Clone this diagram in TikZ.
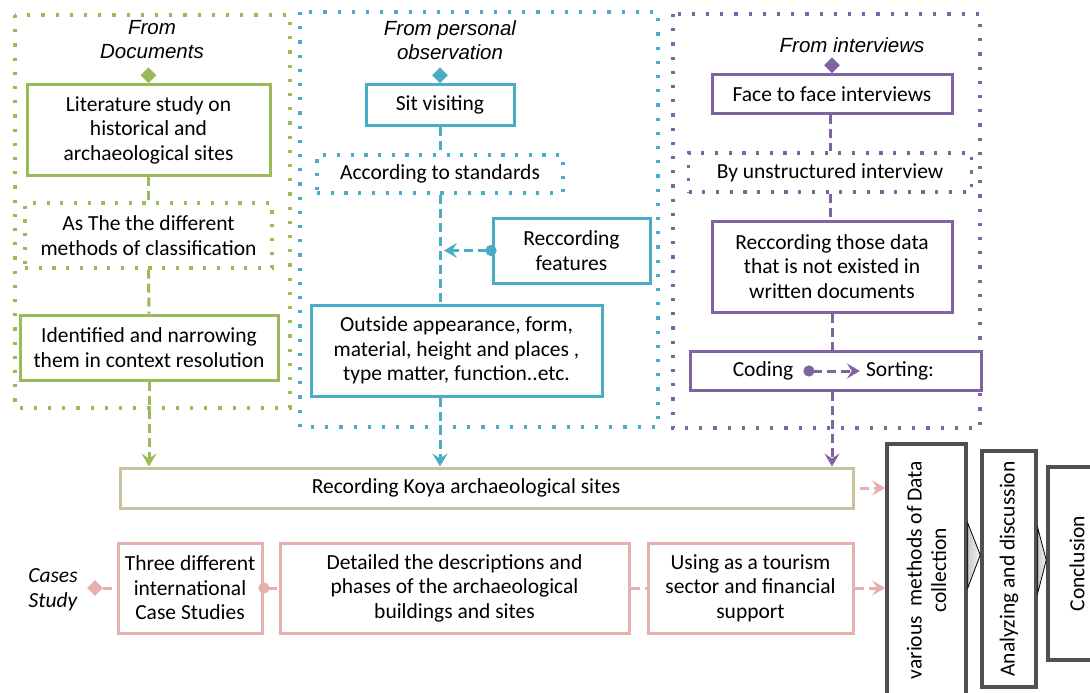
\documentclass[tikz,border=0pt]{standalone}
\usepackage{fontspec}
\setmainfont{Carlito}
\newfontfamily\headfont{Liberation Sans}
\usetikzlibrary{arrows.meta,shapes.geometric,calc,positioning}
\definecolor{grn}{HTML}{9BBB59}
\definecolor{blu}{HTML}{4BACC6}
\definecolor{prp}{HTML}{8064A2}
\definecolor{pnk}{HTML}{E6B0AE}
\definecolor{tan}{HTML}{C9C29E}
\definecolor{dgray}{HTML}{505050}

\begin{document}
\begin{tikzpicture}[x=1pt,y=-1pt,
    txt/.style={font=\fontsize{21.5}{24.5}\selectfont,align=center,inner sep=1pt},
    box/.style={txt,draw=#1,line width=3pt,fill=white},
    dotbox/.style={txt,draw=#1,line width=3.2pt,dash pattern=on 3.2pt off 10.5pt},
    region/.style={line width=3.2pt,dash pattern=on 3.2pt off 11pt},
    head/.style={font=\headfont\itshape\fontsize{20.5}{24}\selectfont,align=center,inner sep=0pt},
    conn/.style={line width=3pt,dash pattern=on 9pt off 5pt},
    arr/.style={-{Stealth[length=13pt,width=15pt,inset=5pt]}},
    dot/.style={{Circle[length=11pt,sep=-5pt]}-},
    dotarr/.style={{Circle[length=11pt,sep=-5pt]}-{Stealth[length=13pt,width=15pt,inset=5pt]}},
    dia/.style={diamond,fill,minimum width=16pt,minimum height=16pt,inner sep=0pt},
    stage/.style={txt,draw=dgray,line width=3.5pt,fill=white,rotate=90}]
  \useasboundingbox (0,0) rectangle (1090,693);
  \clip (0,0) rectangle (1090,693);

  % three source columns
  \draw[region,grn] (15,15) rectangle (290,408);
  \draw[region,blu] (300,12) rectangle (658,427);
  \draw[region,prp] (673,14) rectangle (980,428);

  % from documents
  \node[head] (dochead) at (152,40) {From\\Documents};
  \node[box=grn,minimum width=243,minimum height=90] (lit) at (148.5,130)
    {Literature study on\\historical and\\archaeological sites};
  \node[dotbox=grn,minimum width=247,minimum height=65] (cls) at (148.5,235.5)
    {As The the different\\methods of classification};
  \node[box=grn,minimum width=258,minimum height=65] (ident) at (149,347.5)
    {Identified and narrowing\\them in context resolution};
  \node[dia,grn,anchor=south] (docdia) at (lit.north) {};

  % from personal observation
  \node[head] (obshead) at (450,40) {From personal\\observation};
  \node[box=blu,minimum width=148,minimum height=40] (sit) at (440,105) {Sit visiting};
  \node[dotbox=blu,minimum width=246,minimum height=38] (std) at (440,174)
    {According to standards};
  \node[box=blu,minimum width=157,minimum height=65] (feat) at (571.5,250.5)
    {Reccording\\features};
  \node[box=blu,minimum width=291,minimum height=91] (outside) at (456.5,350.5)
    {Outside appearance, form,\\material, height and places ,\\type matter, function..etc.};
  \node[dia,blu,anchor=south] (obsdia) at (sit.north) {};

  % from interviews
  \node[head] (inthead) at (852,45) {From interviews};
  \node[box=prp,minimum width=240,minimum height=38] (face) at (832,94)
    {Face to face interviews};
  \node[dotbox=prp,minimum width=283,minimum height=39] (unstr) at (830,172.5)
    {By unstructured interview};
  \node[box=prp,minimum width=240,minimum height=91] (rec) at (832,266.5)
    {Reccording those data\\that is not existed in\\written documents};
  \node[box=prp,minimum width=291,minimum height=39] (coding) at (835.5,370.5) {};
  \node[txt] (codtxt) at (763,371) {Coding};
  \node[txt] (sorttxt) at (900,371) {Sorting:};
  \node[dia,prp,anchor=south] (intdia) at (face.north) {};

  % recording and case studies
  \node[box=tan,minimum width=733,minimum height=40] (koya) at (486.5,488)
    {Recording Koya archaeological sites\hspace*{41pt}};
  \node[box=pnk,minimum width=144,minimum height=90] (three) at (190,588)
    {Three different\\international\\Case Studies};
  \node[box=pnk,minimum width=349,minimum height=90] (detail) at (454.5,588)
    {Detailed the descriptions and\\phases of the archaeological\\buildings and sites};
  \node[box=pnk,minimum width=205,minimum height=90] (using) at (750.5,588)
    {Using as a tourism\\sector and financial\\support};
  \node[txt,font=\itshape\fontsize{21.5}{25}\selectfont] (cases) at (53,590) {Cases\\Study};
  \node[dia,pnk] (casedia) at (95,588) {};

  % research stages
  \node[stage,minimum width=252,minimum height=79] (various) at (926.5,570)
    {various\ \ methods of Data\\collection};
  \node[stage,minimum width=236,minimum height=54] (analyz) at (1009,569)
    {Analyzing and discussion};
  \node[stage,minimum width=193,minimum height=58] (concl) at (1077,563.5) {Conclusion};
  \draw[line width=0.8pt,shading=axis,left color=gray!40,right color=gray!8]
    ($(various.south)+(0,-47)$) -- ($(analyz.north)+(0,-14)$) -- ($(various.south)+(0,18)$) -- cycle;
  \draw[line width=0.8pt,shading=axis,left color=gray!40,right color=gray!8]
    ($(analyz.south)+(0,-41)$) -- ($(concl.north)+(0,-3.5)$) -- ($(analyz.south)+(0,24)$) -- cycle;

  % connectors
  \draw[conn,grn] (lit.south) -- (cls.north);
  \draw[conn,grn] (cls.south) -- (ident.north);
  \draw[conn,grn,arr] (ident.south) -- (ident.south |- koya.north);
  \draw[conn,blu] (sit.south) -- (std.north);
  \draw[conn,blu] (std.south) -- (std.south |- outside.north);
  \draw[conn,blu,dotarr,shorten >=4pt] (feat.west) -- (feat.west -| std.south);
  \draw[conn,blu,arr] (outside.south -| std.south) -- (std.south |- koya.north);
  \draw[conn,prp] (face.south -| unstr.north) -- (unstr.north);
  \draw[conn,prp] (unstr.south) -- (unstr.south |- rec.north);
  \draw[conn,prp] (rec.south) -- (rec.south |- coding.north);
  \draw[conn,prp,arr] (coding.south -| rec.south) -- (rec.south |- koya.north);
  \draw[conn,prp,dotarr,shorten <=14pt,shorten >=5pt] (codtxt.east) -- (sorttxt.west);
  \draw[conn,pnk,arr,shorten <=5pt] (koya.east) -- (koya.east -| various.north);
  \draw[conn,pnk] (casedia) -- (three.west);
  \draw[conn,pnk,dot] (three.east) -- (detail.west);
  \draw[conn,pnk] (detail.east) -- (using.west);
  \draw[conn,pnk,arr] (using.east) -- (using.east -| various.north);
\end{tikzpicture}
\end{document}
